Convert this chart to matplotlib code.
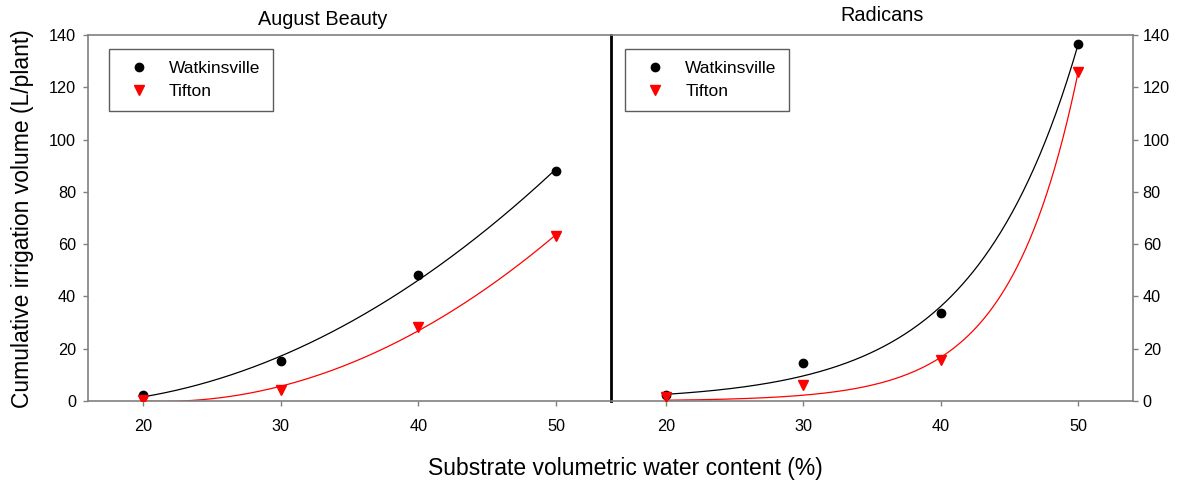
import numpy as np
import matplotlib
matplotlib.use("Agg")
import matplotlib.pyplot as plt

plt.rcParams['font.family'] = ['Liberation Sans', 'DejaVu Sans']

# Substrate volumetric water content (%)
vwc = [20, 30, 40, 50]

# Cumulative irrigation volume (L/plant)
august_watkinsville = [2.2, 15.3, 48.1, 88.1]
august_tifton = [0.5, 4.1, 28.4, 63.1]
radicans_watkinsville = [2.2, 14.4, 33.7, 136.6]
radicans_tifton = [1.5, 6.1, 15.6, 125.7]

panel_titles = ["August Beauty", "Radicans"]
series_labels = ["Watkinsville", "Tifton"]
y_ticks = [0, 20, 40, 60, 80, 100, 120, 140]
x_ticks = [20, 30, 40, 50]

GREY = "#808080"
W, H = 1177, 486


def quad_fit(x, y):
    return np.poly1d(np.polyfit(x, y, 2))


def exp_fit(x, y, iters=200):
    """Least-squares fit of y = a*exp(b*x) (Gauss-Newton from a log-linear start)."""
    x = np.asarray(x, float)
    y = np.asarray(y, float)
    b, la = np.polyfit(x, np.log(y), 1)
    a = np.exp(la)
    for _ in range(iters):
        e = np.exp(b * x)
        r = y - a * e
        J = np.column_stack([e, a * x * e])
        step, *_ = np.linalg.lstsq(J, r, rcond=None)
        a += step[0]
        b += step[1]
        if np.all(np.abs(step) < 1e-12):
            break
    return lambda t: a * np.exp(b * t)


fig = plt.figure(figsize=(W / 100, H / 100), dpi=100)
# axes boxes in pixel units: left, right, top, bottom
ax1 = fig.add_axes([88 / W, 1 - 401 / H, (611 - 88) / W, (401 - 35) / H])
ax2 = fig.add_axes([611 / W, 1 - 401 / H, (1133 - 611) / W, (401 - 35) / H])

xs = np.linspace(20, 50, 300)

panels = [
    (ax1, august_watkinsville, august_tifton, quad_fit, 0.040),
    (ax2, radicans_watkinsville, radicans_tifton, exp_fit, 0.027),
]

for ax, yw, yt, fitter, leg_x in panels:
    ax.plot(xs, fitter(vwc, yw)(xs), color="black", lw=0.9, zorder=2)
    ax.plot(xs, fitter(vwc, yt)(xs), color="red", lw=0.9, zorder=2)
    ax.plot(vwc, yw, "o", color="black", ms=6, label=series_labels[0], zorder=3)
    ax.plot(vwc, yt, "v", color="red", ms=7, label=series_labels[1], zorder=3)
    ax.set_xlim(16, 54)
    ax.set_ylim(0, 140)
    ax.set_xticks(x_ticks)
    ax.set_yticks(y_ticks)
    ax.tick_params(axis="both", direction="out", length=3.5, width=1,
                   color=GREY, labelsize=11.7)
    ax.tick_params(axis="x", pad=9.5)
    for s in ax.spines.values():
        s.set_color(GREY)
        s.set_linewidth(1.2)
    leg = ax.legend(loc="upper left", bbox_to_anchor=(leg_x, 0.962),
                    borderaxespad=0, frameon=True, fancybox=False,
                    edgecolor="#333333", fontsize=12.5,
                    handletextpad=0.69, borderpad=0.7, labelspacing=0.45,
                    handlelength=2.07)
    leg.get_frame().set_linewidth(1.0)

ax1.tick_params(axis="y", pad=5)

# Left panel: ticks on the left; shared divider drawn by the right panel
ax1.spines["right"].set_visible(False)
ax2.spines["left"].set_color("black")
ax2.spines["left"].set_linewidth(2)
ax2.yaxis.tick_right()
ax2.tick_params(axis="y", which="both", left=False, right=True, labelleft=False,
                labelright=True, pad=3.5)

fig.text(322.5 / W, 1 - 25 / H, panel_titles[0], ha="center", va="baseline",
         fontsize=14.3)
fig.text(881.7 / W, 1 - 21 / H, panel_titles[1], ha="center", va="baseline",
         fontsize=14.3)

fig.text(0.019, 0.55, "Cumulative irrigation volume (L/plant)", rotation=90,
         ha="center", va="center", fontsize=16.5)
fig.text(0.531, 0.037, "Substrate volumetric water content (%)",
         ha="center", va="center", fontsize=16.5)

fig.savefig("out.png", dpi=100)
